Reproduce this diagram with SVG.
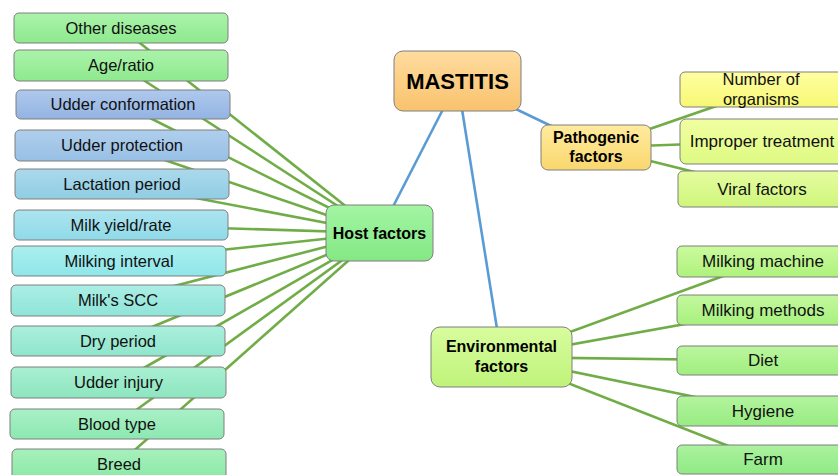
<svg xmlns="http://www.w3.org/2000/svg" width="838" height="475" viewBox="0 0 838 475">
<defs>
<linearGradient id="gOther" x1="0" y1="0" x2="0" y2="1"><stop offset="0" stop-color="#abf3ab"/><stop offset="1" stop-color="#8ee98e"/></linearGradient>
<linearGradient id="gConf" x1="0" y1="0" x2="0" y2="1"><stop offset="0" stop-color="#afc9ed"/><stop offset="1" stop-color="#93b3e2"/></linearGradient>
<linearGradient id="gProt" x1="0" y1="0" x2="0" y2="1"><stop offset="0" stop-color="#b0cfed"/><stop offset="1" stop-color="#97bfe5"/></linearGradient>
<linearGradient id="gLact" x1="0" y1="0" x2="0" y2="1"><stop offset="0" stop-color="#abd9eb"/><stop offset="1" stop-color="#90cde4"/></linearGradient>
<linearGradient id="gYield" x1="0" y1="0" x2="0" y2="1"><stop offset="0" stop-color="#abe4ef"/><stop offset="1" stop-color="#90dae8"/></linearGradient>
<linearGradient id="gInt" x1="0" y1="0" x2="0" y2="1"><stop offset="0" stop-color="#abeff0"/><stop offset="1" stop-color="#8fe6e8"/></linearGradient>
<linearGradient id="gScc" x1="0" y1="0" x2="0" y2="1"><stop offset="0" stop-color="#abeee5"/><stop offset="1" stop-color="#8fe4d8"/></linearGradient>
<linearGradient id="gDry" x1="0" y1="0" x2="0" y2="1"><stop offset="0" stop-color="#abefdd"/><stop offset="1" stop-color="#8fe6cb"/></linearGradient>
<linearGradient id="gInj" x1="0" y1="0" x2="0" y2="1"><stop offset="0" stop-color="#a9efd3"/><stop offset="1" stop-color="#8de6bf"/></linearGradient>
<linearGradient id="gBlood" x1="0" y1="0" x2="0" y2="1"><stop offset="0" stop-color="#a9f0c7"/><stop offset="1" stop-color="#8de8b1"/></linearGradient>
<linearGradient id="gBreed" x1="0" y1="0" x2="0" y2="1"><stop offset="0" stop-color="#a7f0bc"/><stop offset="1" stop-color="#8be9a5"/></linearGradient>
<linearGradient id="gHost" x1="0" y1="0" x2="0" y2="1"><stop offset="0" stop-color="#a3f5a3"/><stop offset="1" stop-color="#84e884"/></linearGradient>
<linearGradient id="gMast" x1="0" y1="0" x2="0" y2="1"><stop offset="0" stop-color="#ffdc9e"/><stop offset="1" stop-color="#f9c26e"/></linearGradient>
<linearGradient id="gPath" x1="0" y1="0" x2="0" y2="1"><stop offset="0" stop-color="#ffeb9e"/><stop offset="1" stop-color="#fad76e"/></linearGradient>
<linearGradient id="gNum" x1="0" y1="0" x2="0" y2="1"><stop offset="0" stop-color="#ffffa2"/><stop offset="1" stop-color="#f7f774"/></linearGradient>
<linearGradient id="gImp" x1="0" y1="0" x2="0" y2="1"><stop offset="0" stop-color="#f1ffa2"/><stop offset="1" stop-color="#defa82"/></linearGradient>
<linearGradient id="gVir" x1="0" y1="0" x2="0" y2="1"><stop offset="0" stop-color="#e6fca0"/><stop offset="1" stop-color="#cff67c"/></linearGradient>
<linearGradient id="gEnv" x1="0" y1="0" x2="0" y2="1"><stop offset="0" stop-color="#d8fc9e"/><stop offset="1" stop-color="#bff37a"/></linearGradient>
<linearGradient id="gMach" x1="0" y1="0" x2="0" y2="1"><stop offset="0" stop-color="#cbfa9e"/><stop offset="1" stop-color="#aef27c"/></linearGradient>
<linearGradient id="gMeth" x1="0" y1="0" x2="0" y2="1"><stop offset="0" stop-color="#c3f89e"/><stop offset="1" stop-color="#a8f07e"/></linearGradient>
<linearGradient id="gDiet" x1="0" y1="0" x2="0" y2="1"><stop offset="0" stop-color="#bbf69e"/><stop offset="1" stop-color="#a0ee80"/></linearGradient>
<linearGradient id="gHyg" x1="0" y1="0" x2="0" y2="1"><stop offset="0" stop-color="#b3f49e"/><stop offset="1" stop-color="#98ec82"/></linearGradient>
<linearGradient id="gFarm" x1="0" y1="0" x2="0" y2="1"><stop offset="0" stop-color="#abf29e"/><stop offset="1" stop-color="#90ea84"/></linearGradient>
</defs>
<style>
.box{stroke:#7f7f7f;stroke-width:1;}
.t{font-family:"Liberation Sans",Arial,sans-serif;font-size:16.5px;fill:#111;text-anchor:middle;}
.r{font-size:17px;}
.b{font-family:"Liberation Sans",Arial,sans-serif;font-size:16px;font-weight:bold;fill:#000;text-anchor:middle;}
.g{stroke:#70ad47;stroke-width:2.6;fill:none;}
.bl{stroke:#5b9bd5;stroke-width:2.6;fill:none;}
</style>
<rect width="838" height="475" fill="#ffffff"/>
<g id="connectors">
<line class="bl" x1="457.5" y1="81" x2="379.5" y2="233"/>
<line class="bl" x1="457.5" y1="81" x2="501.5" y2="357"/>
<line class="bl" x1="457.5" y1="81" x2="596" y2="147.5"/>
<line class="g" x1="379.5" y1="233" x2="121" y2="28"/>
<line class="g" x1="379.5" y1="233" x2="121" y2="65.5"/>
<line class="g" x1="379.5" y1="233" x2="123" y2="104.5"/>
<line class="g" x1="379.5" y1="233" x2="122" y2="145.5"/>
<line class="g" x1="379.5" y1="233" x2="122" y2="184"/>
<line class="g" x1="379.5" y1="233" x2="121" y2="225"/>
<line class="g" x1="379.5" y1="233" x2="119" y2="261"/>
<line class="g" x1="379.5" y1="233" x2="118" y2="300.5"/>
<line class="g" x1="379.5" y1="233" x2="118" y2="341"/>
<line class="g" x1="379.5" y1="233" x2="118.5" y2="382.5"/>
<line class="g" x1="379.5" y1="233" x2="117" y2="424"/>
<line class="g" x1="379.5" y1="233" x2="119" y2="464"/>
<line class="g" x1="596" y1="147.5" x2="764" y2="89.5"/>
<line class="g" x1="596" y1="147.5" x2="764" y2="141.5"/>
<line class="g" x1="596" y1="147.5" x2="763" y2="189"/>
<line class="g" x1="501.5" y1="357" x2="763" y2="261.5"/>
<line class="g" x1="501.5" y1="357" x2="763" y2="310"/>
<line class="g" x1="501.5" y1="357" x2="763" y2="360.5"/>
<line class="g" x1="501.5" y1="357" x2="763" y2="411"/>
<line class="g" x1="501.5" y1="357" x2="763" y2="459.5"/>
</g>
<g id="other-diseases"><rect class="box" x="14" y="13" width="214" height="30" rx="5" fill="url(#gOther)"/><text class="t" x="121" y="33.5">Other diseases</text></g>
<g id="age-ratio"><rect class="box" x="14" y="50" width="214" height="31" rx="5" fill="url(#gOther)"/><text class="t" x="121" y="71">Age/ratio</text></g>
<g id="udder-conformation"><rect class="box" x="16" y="90" width="214" height="29" rx="5" fill="url(#gConf)"/><text class="t" x="123" y="110">Udder conformation</text></g>
<g id="udder-protection"><rect class="box" x="15" y="130" width="214" height="31" rx="5" fill="url(#gProt)"/><text class="t" x="122" y="151">Udder protection</text></g>
<g id="lactation-period"><rect class="box" x="15" y="169" width="214" height="30" rx="5" fill="url(#gLact)"/><text class="t" x="122" y="189.5">Lactation period</text></g>
<g id="milk-yield"><rect class="box" x="14" y="210" width="214" height="30" rx="5" fill="url(#gYield)"/><text class="t" x="121" y="230.5">Milk yield/rate</text></g>
<g id="milking-interval"><rect class="box" x="12" y="246" width="214" height="30" rx="5" fill="url(#gInt)"/><text class="t" x="119" y="266.5">Milking interval</text></g>
<g id="milks-scc"><rect class="box" x="11" y="285" width="214" height="31" rx="5" fill="url(#gScc)"/><text class="t" x="118" y="306">Milk's SCC</text></g>
<g id="dry-period"><rect class="box" x="11" y="326" width="214" height="30" rx="5" fill="url(#gDry)"/><text class="t" x="118" y="346.5">Dry period</text></g>
<g id="udder-injury"><rect class="box" x="11" y="367" width="215" height="31" rx="5" fill="url(#gInj)"/><text class="t" x="118.5" y="388">Udder injury</text></g>
<g id="blood-type"><rect class="box" x="10" y="409" width="214" height="30" rx="5" fill="url(#gBlood)"/><text class="t" x="117" y="429.5">Blood type</text></g>
<g id="breed"><rect class="box" x="12" y="449" width="214" height="31" rx="5" fill="url(#gBreed)"/><text class="t" x="119" y="469.5">Breed</text></g>
<g id="host-factors"><rect class="box" x="326" y="205" width="107" height="56" rx="8" fill="url(#gHost)"/><text class="b" x="379.5" y="238.5">Host factors</text></g>
<g id="mastitis"><rect class="box" x="394" y="51" width="127" height="60" rx="9" fill="url(#gMast)"/><text class="b" x="457.5" y="88.5" style="font-size:22px">MASTITIS</text></g>
<g id="pathogenic-factors"><rect class="box" x="541" y="125" width="110" height="45" rx="7" fill="url(#gPath)"/><text class="b" x="596" y="143">Pathogenic</text><text class="b" x="596" y="162">factors</text></g>
<g id="number-of-organisms"><rect class="box" x="680" y="72" width="168" height="35" rx="5" fill="url(#gNum)"/><text class="t" x="761" y="85">Number of</text><text class="t" x="761" y="104.5">organisms</text></g>
<g id="improper-treatment"><rect class="box" x="680" y="119" width="168" height="45" rx="6" fill="url(#gImp)"/><text class="t r" x="762" y="147">Improper treatment</text></g>
<g id="viral-factors"><rect class="box" x="678" y="171" width="170" height="36" rx="5" fill="url(#gVir)"/><text class="t r" x="762" y="195">Viral factors</text></g>
<g id="environmental-factors"><rect class="box" x="431" y="327" width="141" height="60" rx="9" fill="url(#gEnv)"/><text class="b" x="501.5" y="352">Environmental</text><text class="b" x="501.5" y="372">factors</text></g>
<g id="milking-machine"><rect class="box" x="677" y="246" width="172" height="31" rx="5" fill="url(#gMach)"/><text class="t r" x="763" y="267">Milking machine</text></g>
<g id="milking-methods"><rect class="box" x="677" y="295" width="172" height="30" rx="5" fill="url(#gMeth)"/><text class="t r" x="763" y="315.5">Milking methods</text></g>
<g id="diet"><rect class="box" x="677" y="346" width="172" height="29" rx="5" fill="url(#gDiet)"/><text class="t r" x="763" y="366">Diet</text></g>
<g id="hygiene"><rect class="box" x="677" y="396" width="172" height="30" rx="5" fill="url(#gHyg)"/><text class="t r" x="763" y="416.5">Hygiene</text></g>
<g id="farm"><rect class="box" x="677" y="445" width="172" height="29" rx="5" fill="url(#gFarm)"/><text class="t r" x="763" y="465">Farm</text></g>
</svg>
